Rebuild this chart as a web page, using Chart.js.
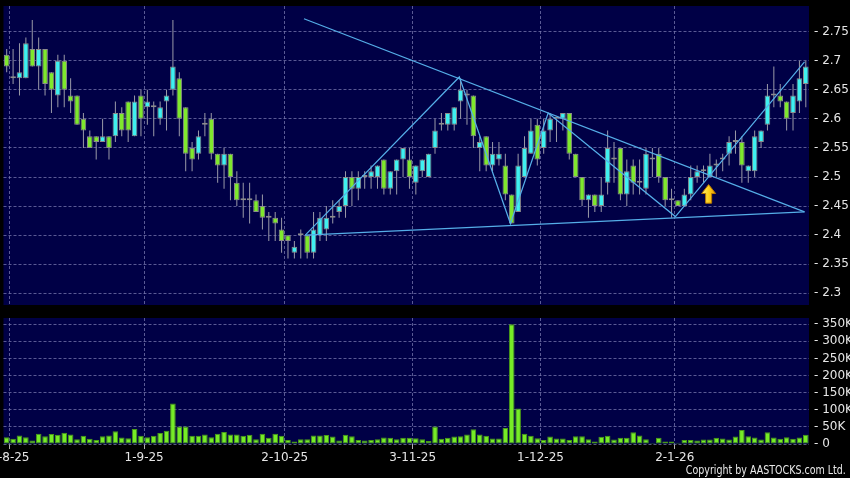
<!DOCTYPE html>
<html>
<head>
<meta charset="utf-8">
<script src="https://cdn.jsdelivr.net/npm/chart.js@4.4.1/dist/chart.umd.min.js"></script>
<style>
  html, body { margin: 0; padding: 0; background: #000; }
  #wrap { position: relative; width: 850px; height: 478px; overflow: hidden; background: #000; }
  #priceChart { position: absolute; left: 0; top: 0; }
  #volChart { position: absolute; left: 0; top: 310px; }
  #copy { position: absolute; right: 4px; top: 463px; color: #e8e8e8; white-space: nowrap;
          font: 12px "DejaVu Sans Condensed", "DejaVu Sans", sans-serif;
          transform-origin: right top; transform: scaleX(0.88); }
</style>
</head>
<body>
<div id="wrap">
  <canvas id="priceChart" width="850" height="310"></canvas>
  <canvas id="volChart" width="850" height="168"></canvas>
  <div id="copy">Copyright by AASTOCKS.com Ltd.</div>
</div>
<script>
// trading days, 31 Jul 2025 - 30 Jan 2026
var dates = [
  "31-7-25",
  "1-8-25","4-8-25","5-8-25","6-8-25","7-8-25","8-8-25","11-8-25","12-8-25","13-8-25","14-8-25","15-8-25",
  "18-8-25","19-8-25","20-8-25","21-8-25","22-8-25","25-8-25","26-8-25","27-8-25","28-8-25","29-8-25",
  "1-9-25","2-9-25","3-9-25","4-9-25","5-9-25","8-9-25","9-9-25","10-9-25","11-9-25","12-9-25","15-9-25",
  "16-9-25","17-9-25","18-9-25","19-9-25","22-9-25","23-9-25","24-9-25","25-9-25","26-9-25","29-9-25","30-9-25",
  "2-10-25","3-10-25","6-10-25","8-10-25","9-10-25","10-10-25","13-10-25","14-10-25","15-10-25","16-10-25",
  "17-10-25","20-10-25","21-10-25","22-10-25","23-10-25","24-10-25","27-10-25","28-10-25","30-10-25","31-10-25",
  "3-11-25","4-11-25","5-11-25","6-11-25","7-11-25","10-11-25","11-11-25","12-11-25","13-11-25","14-11-25",
  "17-11-25","18-11-25","19-11-25","20-11-25","21-11-25","24-11-25","25-11-25","26-11-25","27-11-25","28-11-25",
  "1-12-25","2-12-25","3-12-25","4-12-25","5-12-25","8-12-25","9-12-25","10-12-25","11-12-25","12-12-25","15-12-25",
  "16-12-25","17-12-25","18-12-25","19-12-25","22-12-25","23-12-25","24-12-25","29-12-25","30-12-25","31-12-25",
  "2-1-26","5-1-26","6-1-26","7-1-26","8-1-26","9-1-26","12-1-26","13-1-26","14-1-26","15-1-26","16-1-26",
  "19-1-26","20-1-26","21-1-26","22-1-26","23-1-26","26-1-26","27-1-26","28-1-26","29-1-26","30-1-26"
];
var tickLabels = ["1-8-25", "1-9-25", "2-10-25", "3-11-25", "1-12-25", "2-1-26"];
var priceTicks = [2.3, 2.35, 2.4, 2.45, 2.5, 2.55, 2.6, 2.65, 2.7, 2.75];
var volTicks = [0, 50000, 100000, 150000, 200000, 250000, 300000, 350000];

var opens = [
  2.71,2.67,2.67,2.67,2.72,2.69,2.72,2.68,2.64,2.70, 2.64,2.64,2.60,2.57,2.57,2.56,2.57,2.57,2.61,2.63,
  2.57,2.64,2.62,2.62,2.60,2.63,2.65,2.67,2.62,2.55, 2.54,2.59,2.60,2.54,2.52,2.54,2.49,2.46,2.46,2.46,
  2.45,2.43,2.43,2.41,2.40,2.37,2.40,2.40,2.37,2.40, 2.41,2.43,2.44,2.45,2.50,2.48,2.50,2.50,2.50,2.53,
  2.48,2.51,2.53,2.53,2.49,2.51,2.50,2.55,2.59,2.59, 2.59,2.63,2.64,2.64,2.55,2.57,2.52,2.53,2.52,2.47,
  2.44,2.50,2.54,2.59,2.55,2.58,2.60,2.60,2.61,2.54, 2.50,2.46,2.47,2.45,2.49,2.53,2.55,2.47,2.52,2.49,
  2.48,2.53,2.54,2.50,2.46,2.46,2.45,2.47,2.50,2.51, 2.50,2.52,2.53,2.54,2.56,2.56,2.51,2.51,2.56,2.59,
  2.64,2.64,2.63,2.61,2.63,2.66
];
var highs = [
  2.72,2.72,2.73,2.74,2.77,2.74,2.72,2.68,2.71,2.71, 2.67,2.64,2.61,2.58,2.57,2.60,2.57,2.63,2.62,2.63,
  2.64,2.65,2.65,2.63,2.63,2.65,2.77,2.68,2.62,2.56, 2.58,2.61,2.61,2.54,2.55,2.54,2.51,2.49,2.49,2.47,
  2.47,2.44,2.44,2.43,2.40,2.39,2.41,2.40,2.44,2.44, 2.45,2.46,2.46,2.51,2.51,2.51,2.51,2.52,2.52,2.53,
  2.51,2.53,2.55,2.55,2.52,2.53,2.54,2.60,2.61,2.61, 2.62,2.67,2.65,2.64,2.57,2.57,2.56,2.56,2.54,2.47,
  2.54,2.57,2.60,2.60,2.60,2.61,2.60,2.61,2.61,2.54, 2.50,2.47,2.47,2.50,2.58,2.56,2.55,2.53,2.53,2.53,
  2.55,2.55,2.55,2.50,2.48,2.46,2.48,2.52,2.52,2.52, 2.54,2.53,2.54,2.57,2.58,2.57,2.52,2.58,2.58,2.66,
  2.69,2.66,2.63,2.66,2.70,2.70
];
var lows = [
  2.68,2.66,2.64,2.67,2.69,2.65,2.64,2.61,2.62,2.62, 2.61,2.59,2.55,2.55,2.53,2.56,2.53,2.56,2.57,2.56,
  2.57,2.57,2.59,2.57,2.59,2.58,2.64,2.57,2.51,2.51, 2.53,2.57,2.53,2.49,2.48,2.46,2.45,2.43,2.42,2.44,
  2.41,2.39,2.39,2.37,2.36,2.36,2.36,2.36,2.36,2.39, 2.39,2.42,2.43,2.43,2.45,2.46,2.48,2.48,2.48,2.47,
  2.47,2.47,2.50,2.48,2.47,2.50,2.50,2.54,2.58,2.58, 2.58,2.60,2.59,2.55,2.51,2.51,2.51,2.52,2.46,2.42,
  2.44,2.50,2.54,2.52,2.54,2.56,2.56,2.58,2.53,2.50, 2.45,2.43,2.44,2.44,2.47,2.49,2.46,2.45,2.47,2.47,
  2.47,2.50,2.49,2.45,2.43,2.45,2.45,2.46,2.49,2.49, 2.50,2.50,2.51,2.52,2.54,2.49,2.49,2.50,2.55,2.58,
  2.62,2.62,2.58,2.58,2.61,2.62
];
var closes = [
  2.69,2.67,2.68,2.73,2.69,2.72,2.66,2.65,2.70,2.65, 2.63,2.59,2.58,2.55,2.56,2.57,2.55,2.61,2.58,2.58,
  2.63,2.60,2.63,2.62,2.62,2.64,2.69,2.60,2.54,2.53, 2.57,2.59,2.54,2.52,2.54,2.50,2.46,2.46,2.46,2.44,
  2.43,2.43,2.42,2.39,2.39,2.38,2.40,2.37,2.41,2.43, 2.43,2.43,2.45,2.50,2.48,2.50,2.50,2.51,2.52,2.48,
  2.51,2.53,2.55,2.50,2.52,2.53,2.54,2.58,2.59,2.61, 2.62,2.65,2.64,2.57,2.56,2.52,2.54,2.54,2.47,2.42,
  2.52,2.55,2.58,2.53,2.58,2.60,2.60,2.61,2.54,2.50, 2.46,2.47,2.45,2.47,2.55,2.53,2.47,2.51,2.49,2.49,
  2.54,2.53,2.50,2.46,2.46,2.45,2.47,2.50,2.51,2.51, 2.52,2.52,2.53,2.56,2.56,2.52,2.52,2.57,2.58,2.64,
  2.64,2.63,2.60,2.64,2.67,2.69
];
var volumes = [
  20000,15000,25000,20000,10000,30000,23000,29000,27000,33000, 28000,14000,24000,15000,12000,23000,25000,37000,19000,17000,
  44000,24000,20000,24000,32000,39000,118000,51000,51000,24000, 24000,28000,20000,30000,35000,28000,28000,24000,27000,14000,
  30000,18000,30000,24000,12000,7000,14000,14000,25000,25000, 26000,22000,10000,27000,23000,12000,10000,12000,14000,19000,
  18000,14000,18000,18000,17000,14000,9000,51000,15000,18000, 22000,23000,28000,43000,28000,24000,16000,16000,47000,350000,
  104000,30000,24000,17000,12000,22000,16000,16000,12000,23000, 23000,14000,7000,21000,24000,13000,18000,18000,34000,25000,
  14000,3000,18000,7000,7000,4000,12000,12000,10000,13000, 13000,18000,16000,13000,22000,41000,23000,19000,13000,34000,
  19000,15000,20000,15000,19000,27000
];

// drawn trend lines: [candle index, price]
var upperTrend = [[46.5, 2.772], [124.8, 2.44]];
var lowerTrend = [[46.7, 2.40], [124.8, 2.44]];
var swingPath = [[46.7, 2.40], [70.8, 2.672], [78.8, 2.42], [84.7, 2.61], [104.6, 2.432], [124.8, 2.698]];
// buy signal arrow: [candle index, low price, high price]
var signalArrow = [109.8, 2.455, 2.487];

var NAVY = '#000046';
var GRID = 'rgba(120,120,175,0.75)';
var TEXT = '#e6e6e6';
var UP = '#3ff0f0', DOWN = '#7fe82d', DOJI = '#9a9aa8';
var LINE = '#55aee8';
var FONT = { family: 'DejaVu Sans', size: 12 };

var tickPos = tickLabels.map(function (l) { return dates.indexOf(l) - 0.5; });

var plotBg = {
  id: 'plotBg',
  beforeDraw: function (chart) {
    var a = chart.chartArea, c = chart.ctx;
    c.save();
    c.fillStyle = NAVY;
    c.fillRect(a.left, a.top, a.right - a.left, a.bottom - a.top);
    c.restore();
  }
};

var arrowPlugin = {
  id: 'arrow',
  afterDatasetsDraw: function (chart) {
    var c = chart.ctx;
    var cx = chart.scales.x.getPixelForValue(signalArrow[0]);
    var bot = chart.scales.y.getPixelForValue(signalArrow[1]);
    var top = chart.scales.y.getPixelForValue(signalArrow[2]);
    var h = bot - top, neck = top + h * 0.48;
    c.save();
    c.beginPath();
    c.moveTo(cx, top);
    c.lineTo(cx + 7, neck);
    c.lineTo(cx + 3, neck);
    c.lineTo(cx + 3, bot);
    c.lineTo(cx - 3, bot);
    c.lineTo(cx - 3, neck);
    c.lineTo(cx - 7, neck);
    c.closePath();
    var g = c.createLinearGradient(cx - 7, 0, cx + 7, 0);
    g.addColorStop(0, '#fff27a');
    g.addColorStop(0.5, '#ffd21a');
    g.addColorStop(1, '#e89a00');
    c.fillStyle = g;
    c.fill();
    c.strokeStyle = '#b87800';
    c.lineWidth = 1;
    c.stroke();
    c.restore();
  }
};

function xAxis(showLabels, height) {
  return {
    type: 'linear',
    offset: false,
    min: -0.5,
    max: dates.length - 0.5,
    afterBuildTicks: function (s) { s.ticks = tickPos.map(function (v) { return { value: v }; }); },
    afterFit: function (s) { s.height = height; s.paddingLeft = 0; s.paddingRight = 0; },
    ticks: {
      display: showLabels,
      autoSkip: false,
      maxRotation: 0,
      color: TEXT,
      font: FONT,
      padding: 2,
      callback: function (v) { return tickLabels[tickPos.indexOf(v)]; }
    },
    grid: { color: GRID, offset: false, drawTicks: showLabels, tickLength: 5, tickColor: '#b0b0b0', tickBorderDash: [] },
    border: { display: false, dash: [3, 2] }
  };
}

function yAxis(min, max, ticks, fmt) {
  return {
    position: 'right',
    min: min,
    max: max,
    afterBuildTicks: function (s) { s.ticks = ticks.map(function (v) { return { value: v }; }); },
    afterFit: function (s) { s.width = 41; s.paddingTop = 0; s.paddingBottom = 0; },
    ticks: { color: TEXT, font: FONT, padding: 5, callback: function (v) { return '- ' + fmt(v); } },
    grid: { color: GRID, drawTicks: false },
    border: { display: false, dash: [3, 2] }
  };
}

var idx = dates.map(function (d, i) { return i; });
function pts(arr) { return arr.map(function (p) { return { x: p[0], y: p[1] }; }); }

var lineStyle = { type: 'line', borderColor: LINE, borderWidth: 1.2, pointRadius: 0, fill: false, order: 1 };

new Chart(document.getElementById('priceChart'), {
  type: 'bar',
  data: {
    datasets: [
      Object.assign({ data: pts(upperTrend) }, lineStyle),
      Object.assign({ data: pts(lowerTrend) }, lineStyle),
      Object.assign({ data: pts(swingPath) }, lineStyle),
      {
        data: idx.map(function (i) { return { x: i, y: [opens[i], closes[i]] }; }),
        backgroundColor: idx.map(function (i) {
          return closes[i] > opens[i] ? UP : (closes[i] < opens[i] ? DOWN : DOJI);
        }),
        borderColor: '#8c8c8c',
        borderWidth: 1,
        borderSkipped: false,
        minBarLength: 2,
        grouped: false,
        barPercentage: 0.88,
        categoryPercentage: 1,
        order: 2
      },
      {
        data: idx.map(function (i) { return { x: i, y: [lows[i], highs[i]] }; }),
        backgroundColor: '#9a9aa8',
        maxBarThickness: 1,
        grouped: false,
        categoryPercentage: 1,
        order: 3
      }
    ]
  },
  options: {
    responsive: false,
    animation: false,
    layout: { padding: { left: 3.5, right: 0, top: 6, bottom: 5 } },
    plugins: { legend: { display: false }, tooltip: { enabled: false } },
    scales: {
      x: xAxis(false, 0),
      y: yAxis(2.28, 2.794, priceTicks, function (v) { return String(v); })
    }
  },
  plugins: [plotBg, arrowPlugin]
});

new Chart(document.getElementById('volChart'), {
  type: 'bar',
  data: {
    datasets: [{
      data: idx.map(function (i) { return { x: i, y: volumes[i] }; }),
      backgroundColor: '#76ec26',
      borderColor: '#4a9a18',
      borderWidth: 1,
      borderSkipped: false,
      barPercentage: 0.88,
      categoryPercentage: 1
    }]
  },
  options: {
    responsive: false,
    animation: false,
    layout: { padding: { left: 3.5, right: 0, top: 8, bottom: 0 } },
    plugins: { legend: { display: false }, tooltip: { enabled: false } },
    scales: {
      x: xAxis(true, 34),
      y: yAxis(0, 368000, volTicks, function (v) { return v === 0 ? '0' : (v / 1000) + 'K'; })
    }
  },
  plugins: [plotBg]
});
</script>
</body>
</html>
